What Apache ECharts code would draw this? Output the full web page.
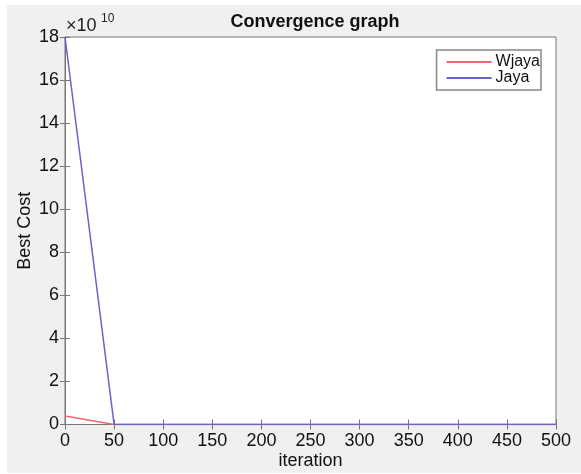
<!DOCTYPE html>
<html>
<head>
<meta charset="utf-8">
<title>Convergence graph</title>
<script src="https://cdn.jsdelivr.net/npm/echarts@6/dist/echarts.min.js"></script>
<style>
  html, body { margin: 0; padding: 0; background: #ffffff; }
  #chart { width: 581px; height: 474px; }
</style>
</head>
<body>
<div id="chart"></div>
<script>
// iterations sampled every 50, cost in units of 1e10
var iterations = [0, 50, 100, 150, 200, 250, 300, 350, 400, 450, 500];
var wjayaCost = [0.4, 0, 0, 0, 0, 0, 0, 0, 0, 0, 0];
var jayaCost = [18, 0, 0, 0, 0, 0, 0, 0, 0, 0, 0];
var xTicks = [0, 50, 100, 150, 200, 250, 300, 350, 400, 450, 500];
var yTicks = [0, 2, 4, 6, 8, 10, 12, 14, 16, 18];

function pairs(xs, ys) {
    var out = [];
    for (var i = 0; i < xs.length; i++) out.push([xs[i], ys[i]]);
    return out;
}

var font = "'Liberation Sans', Arial, sans-serif";
var axisCol = "#777777";

var chart = echarts.init(document.getElementById("chart"));
var option = {
    animation: false,
    backgroundColor: "#ffffff",
    textStyle: { fontFamily: font },
    graphic: [
        { type: "rect", z: -10, shape: { x: 7, y: 5, width: 574, height: 468 }, style: { fill: "#f0f0ef" } },
        { type: "text", left: 66, top: 17, style: { text: "×10", font: "18px " + font, fill: "#222" } },
        { type: "text", left: 101, top: 13, style: { text: "10", font: "12px " + font, fill: "#222" } }
    ],
    title: {
        text: "Convergence graph",
        left: 310, top: 8, textAlign: "center",
        textStyle: { fontSize: 18, fontWeight: "bold", color: "#111", fontFamily: font }
    },
    legend: {
        right: 40, top: 50,
        orient: "vertical",
        itemWidth: 45, itemHeight: 2, itemGap: 0,
        icon: "rect",
        backgroundColor: "#ffffff",
        borderColor: "#888", borderWidth: 1.5,
        padding: [4, 1, 4, 10],
        textStyle: { fontSize: 16, color: "#111", padding: [0, 0, 0, -1], lineHeight: 16 },
        data: ["Wjaya", "Jaya"]
    },
    grid: {
        left: 65, top: 37, right: 25, bottom: 49.5,
        outerBoundsMode: "none", containLabel: false,
        backgroundColor: "#ffffff", show: true, borderColor: axisCol, borderWidth: 1
    },
    xAxis: [{
        type: "value", min: 0, max: 500, interval: 50,
        name: "iteration", nameLocation: "middle", nameGap: 28, nameMoveOverlap: false,
        nameTextStyle: { fontSize: 18, color: "#111" },
        axisLine: { lineStyle: { color: axisCol } },
        axisTick: { inside: true, length: 5, lineStyle: { color: axisCol } },
        axisLabel: { fontSize: 18, color: "#111", margin: 8,
            formatter: function (v) { return xTicks.indexOf(v) >= 0 ? String(v) : ""; } },
        splitLine: { show: false }
    }, {
        type: "value", position: "top", min: 0, max: 500, interval: 50,
        axisLine: { lineStyle: { color: axisCol } },
        axisTick: { inside: true, length: 5, lineStyle: { color: axisCol } },
        axisLabel: { show: false }, splitLine: { show: false }
    }],
    yAxis: [{
        type: "value", min: 0, max: 18, interval: 2,
        name: "Best Cost", nameLocation: "middle", nameGap: 31, nameMoveOverlap: false,
        nameTextStyle: { fontSize: 18, color: "#111" },
        axisLine: { show: true, lineStyle: { color: axisCol } },
        axisTick: { show: true, inside: true, length: 5, lineStyle: { color: axisCol } },
        axisLabel: { fontSize: 18, color: "#111", margin: 6,
            formatter: function (v) { return yTicks.indexOf(v) >= 0 ? String(v) : ""; } },
        splitLine: { show: false }
    }, {
        type: "value", position: "right", min: 0, max: 18, interval: 2,
        axisLine: { show: true, lineStyle: { color: axisCol } },
        axisTick: { show: true, inside: true, length: 5, lineStyle: { color: axisCol } },
        axisLabel: { show: false }, splitLine: { show: false }
    }],
    series: [{
        name: "Wjaya", type: "line", showSymbol: false,
        color: "#f0646e",
        lineStyle: { width: 1.5, color: "#f0646e" },
        data: pairs(iterations, wjayaCost)
    }, {
        name: "Jaya", type: "line", showSymbol: false,
        color: "#6464cc",
        lineStyle: { width: 1.5, color: "#6464cc" },
        data: pairs(iterations, jayaCost)
    }]
};
chart.setOption(option);
</script>
</body>
</html>
